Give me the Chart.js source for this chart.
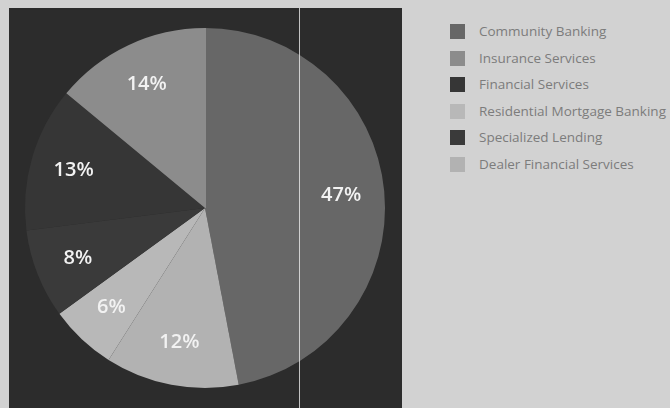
<!DOCTYPE html>
<html>
<head>
<meta charset="utf-8">
<script src="https://cdn.jsdelivr.net/npm/chart.js@4.4.1/dist/chart.umd.min.js"></script>
<style>
  body { margin: 0; width: 670px; height: 408px; background: #d2d2d2; position: relative; overflow: hidden; font-family: "Open Sans", sans-serif; }
  #box { position: absolute; left: 9px; top: 8px; width: 393px; height: 400px; background: #2c2c2c; }
  #legend { position: absolute; left: 450px; top: 24px; margin: 0; padding: 0; list-style: none; }
  #legend li { height: 26.5px; display: flex; align-items: flex-start; font-size: 13.5px; color: #7c7c7c; white-space: nowrap; }
  #legend span.sw { width: 15px; height: 15px; margin-right: 14px; flex: none; }
  #legend span.tx { line-height: 15px; }
</style>
</head>
<body>
<div id="box"><canvas id="pieChart" width="393" height="400"></canvas></div>
<ul id="legend"></ul>
<script>
// slices in clockwise order from 12 o'clock
var segments = ['Community Banking', 'Dealer Financial Services', 'Residential Mortgage Banking', 'Specialized Lending', 'Financial Services', 'Insurance Services'];
var shares = [47, 12, 6, 8, 13, 14];
var colors = ['#676767', '#b2b2b2', '#b8b8b8', '#3a3a3a', '#363636', '#8c8c8c'];
// order the legend lists them in
var legendOrder = ['Community Banking', 'Insurance Services', 'Financial Services', 'Residential Mortgage Banking', 'Specialized Lending', 'Dealer Financial Services'];

var pctLabels = {
  id: 'pctLabels',
  afterDatasetsDraw: function(chart) {
    var c = chart.ctx;
    var meta = chart.getDatasetMeta(0);
    c.save();
    c.font = '600 20px "Open Sans", sans-serif';
    c.fillStyle = '#f2f2f2';
    c.textAlign = 'center';
    c.textBaseline = 'middle';
    meta.data.forEach(function(arc, i) {
      var mid = (arc.startAngle + arc.endAngle) / 2;
      var r = arc.outerRadius * 0.76;
      c.fillText(shares[i] + '%', arc.x + Math.cos(mid) * r, arc.y + Math.sin(mid) * r);
    });
    // faint edge between first and last slice
    var a = meta.data[0];
    c.strokeStyle = 'rgba(150,150,150,0.8)';
    c.lineWidth = 1;
    c.beginPath();
    c.moveTo(Math.round(a.x) + 0.5, a.y);
    c.lineTo(Math.round(a.x) + 0.5, a.y - a.outerRadius);
    c.stroke();
    // scan crease
    c.strokeStyle = 'rgba(235,235,235,0.8)';
    var lx = Math.round(a.x + a.outerRadius * 0.52) + 0.5;
    c.beginPath();
    c.moveTo(lx, 0);
    c.lineTo(lx, chart.height);
    c.stroke();
    c.restore();
  }
};

var ctx = document.getElementById('pieChart').getContext('2d');
var myChart = new Chart(ctx, {
  type: 'pie',
  data: {
    labels: segments,
    datasets: [{
      data: shares,
      backgroundColor: colors,
      borderWidth: 0
    }]
  },
  options: {
    responsive: false,
    animation: false,
    layout: { padding: { left: 16, right: 17, top: 20, bottom: 20 } },
    plugins: {
      legend: { display: false },
      tooltip: { enabled: false }
    }
  },
  plugins: [pctLabels]
});

var ul = document.getElementById('legend');
legendOrder.forEach(function(name) {
  var i = segments.indexOf(name);
  var li = document.createElement('li');
  li.innerHTML = '<span class="sw" style="background:' + colors[i] + '"></span><span class="tx">' + name + '</span>';
  ul.appendChild(li);
});
</script>
</body>
</html>
